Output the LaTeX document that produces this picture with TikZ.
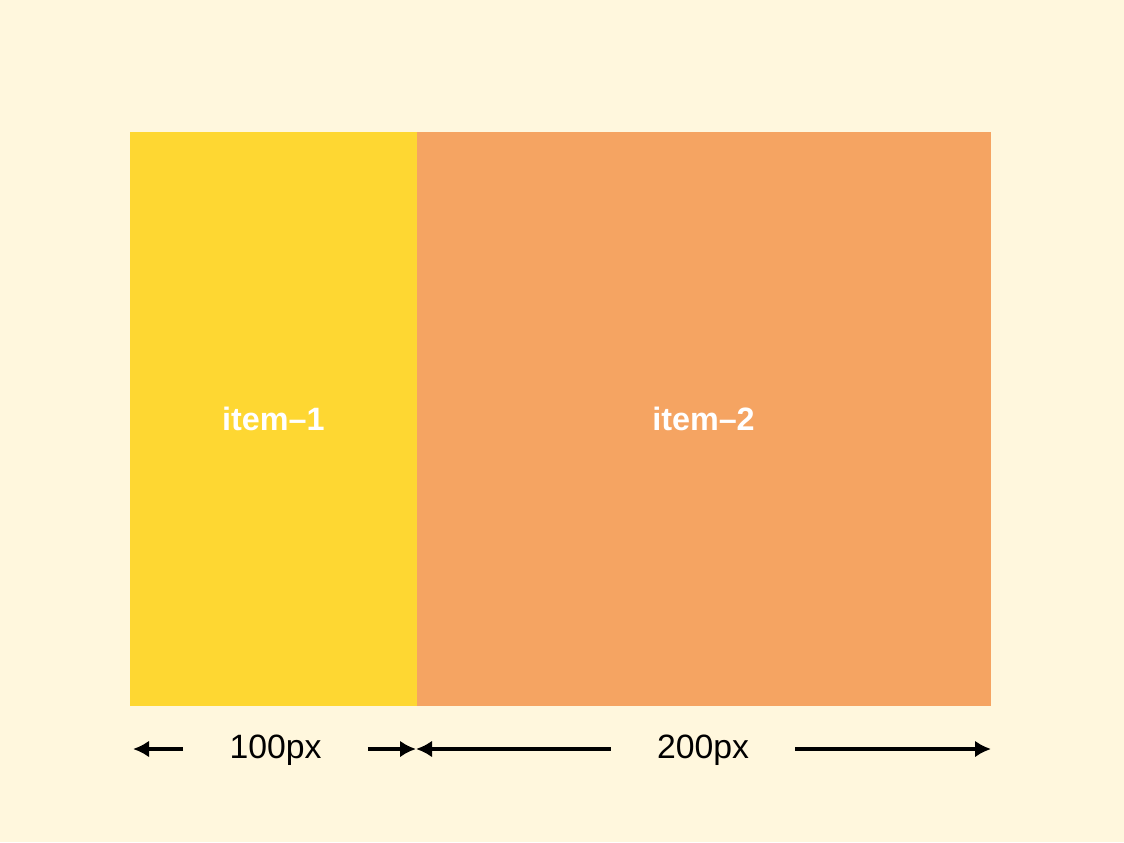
\documentclass[tikz,border=0pt]{standalone}
\usepackage{fontspec}
\setmainfont{Liberation Sans}
\usepackage{tikz}
\usetikzlibrary{arrows.meta}

\definecolor{bgcream}{HTML}{FFF7DD}
\definecolor{itemyellow}{HTML}{FED732}
\definecolor{itemorange}{HTML}{F5A462}

\begin{document}
\begin{tikzpicture}[x=0.025cm, y=-0.025cm, >={Latex[length=4mm, width=4.2mm]},
	itembox/.style={anchor=north west, minimum height=14.325cm, inner sep=0pt, line width=0.4pt, text=white, font=\fontsize{23}{27}\selectfont\bfseries},
	dimlabel/.style={inner xsep=1.15cm, inner ysep=0pt, font=\fontsize{24}{28}\selectfont},
	dimline/.style={line width=2.5pt}]
	\fill[bgcream] (0,0) rectangle (1124,842);
	\node[itembox, fill=itemyellow, draw=itemyellow, minimum width=7.15cm] (item1) at (130,132) {item–1};
	\node[itembox, fill=itemorange, draw=itemorange, minimum width=14.325cm] (item2) at (item1.north east) {item–2};
	% widths below the boxes
	\node[dimlabel] (w1) at (275.5,750) {100px};
	\node[dimlabel] (w2) at (703,750) {200px};
	\coordinate (e0) at (133,749);
	\coordinate (e1) at (416,749);
	\coordinate (e2) at (991,749);
	\draw[dimline, ->] (w1.west |- e0) -- (e0);
	\draw[dimline, ->] (w1.east |- e1) -- (e1);
	\draw[dimline, ->] (w2.west |- e1) -- (e1);
	\draw[dimline, ->] (w2.east |- e2) -- (e2);
\end{tikzpicture}
\end{document}
